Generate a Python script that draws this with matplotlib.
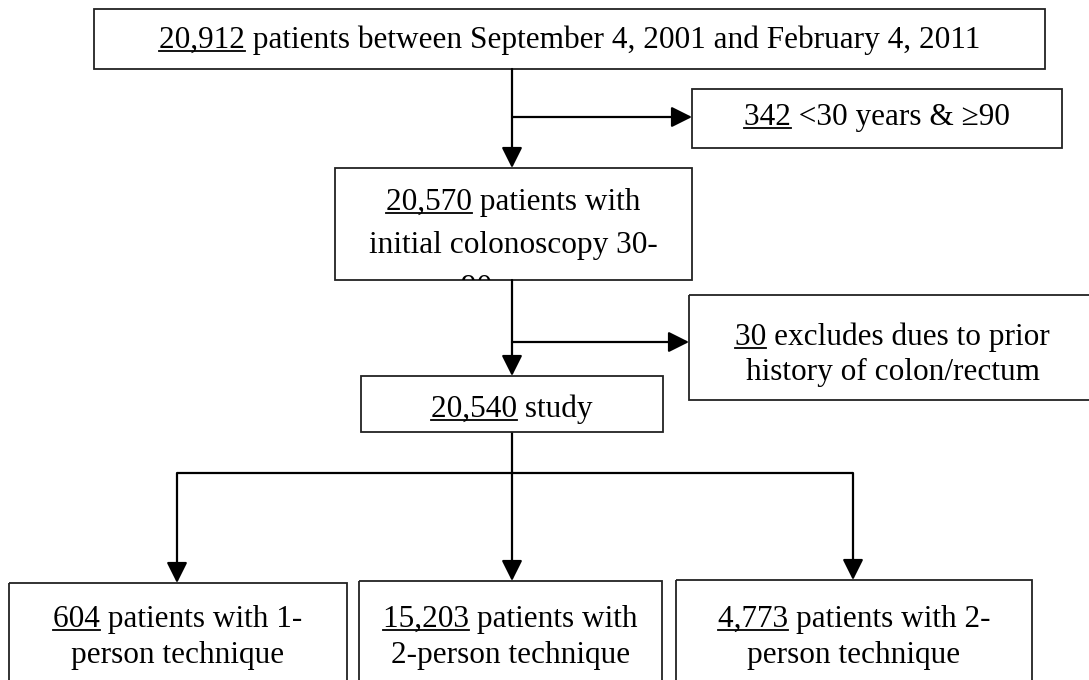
import matplotlib.pyplot as plt
from matplotlib.patches import Rectangle
from matplotlib.transforms import Bbox, TransformedBbox

plt.rcParams['font.family'] = ['Liberation Serif', 'DejaVu Serif']

# counts (underlined) and the text that follows them, per box
counts = ["20,912", "342", "20,570", "30", "20,540", "604", "15,203", "4,773"]
rests = [
    ["patients between September 4, 2001 and February 4, 2011"],
    ["<30 years & \u226590"],
    ["patients with", "initial colonoscopy 30-", "90 years"],
    ["excludes dues to prior", "history of colon/rectum"],
    ["study"],
    ["patients with 1-", "person technique"],
    ["patients with", "2-person technique"],
    ["patients with 2-", "person technique"],
]

# box geometry in pixels: x0, y0, x1, y1 (y grows downward)
boxes = [
    (94, 9, 1045, 69),
    (692, 89, 1062, 148),
    (335, 168, 692, 280),
    (689, 295, 1096, 400),
    (361, 376, 663, 432),
    (9, 583, 347, 690),
    (359, 581, 662, 690),
    (676, 580, 1032, 690),
]
first_baseline = [48, 125, 210, 345, 417, 627, 627, 627]
line_gap = [0, 0, 43, 35, 0, 36, 36, 36]

FS = 22.5

fig = plt.figure(figsize=(10.89, 6.8), dpi=100)
ax = fig.add_axes([0, 0, 1, 1])
ax.set_xlim(0, 1089)
ax.set_ylim(680, 0)
ax.axis('off')
renderer = fig.canvas.get_renderer()


def text_width(s):
    t = ax.text(0, 0, s, fontsize=FS)
    w = t.get_window_extent(renderer).width
    t.remove()
    return w


for i, (x0, y0, x1, y1) in enumerate(boxes):
    rect = Rectangle((x0, y0), x1 - x0, y1 - y0, fill=False,
                     edgecolor='#222222', lw=1.3, zorder=3)
    ax.add_patch(rect)
    # text that overflows the box is cut off, as in the original
    clip = TransformedBbox(Bbox([[x0, y0], [x1, y1]]), ax.transData)
    cx = (x0 + x1) / 2
    for j, line in enumerate(rests[i]):
        y = first_baseline[i] + j * line_gap[i]
        s = f"{counts[i]} {line}" if j == 0 else line
        t = ax.text(cx, y, s, fontsize=FS, ha='center', va='baseline',
                    color='black', zorder=4)
        t.set_clip_path(None)
        t.set_clip_box(clip)
        t.set_clip_on(True)
        if j == 0:
            full = text_width(s)
            wn = text_width(counts[i])
            left = cx - full / 2
            ax.plot([left, left + wn], [y + 3, y + 3], color='black', lw=1.3, zorder=4)

arrow_kw = dict(arrowstyle='-|>,head_length=0.9,head_width=0.45', color='black',
                lw=1.6, shrinkA=0, shrinkB=0, mutation_scale=14)
line_kw = dict(color='black', lw=1.6, solid_capstyle='butt')


def arrow(xa, ya, xb, yb):
    ax.annotate('', xy=(xb, yb), xytext=(xa, ya), arrowprops=arrow_kw)


cx_main = 512
# stage 1 -> stage 2 with exclusion
arrow(cx_main, 69, cx_main, 168)
arrow(cx_main, 117, 692, 117)
# stage 2 -> stage 3 with exclusion
arrow(cx_main, 280, cx_main, 376)
arrow(cx_main, 342, 689, 342)
# split into three groups
ax.plot([cx_main, cx_main], [432, 473], **line_kw)
ax.plot([177, 853], [473, 473], **line_kw)
for xb, yb in [(177, 583), (512, 581), (853, 580)]:
    arrow(xb, 473, xb, yb)

fig.savefig('out.png', dpi=100)
